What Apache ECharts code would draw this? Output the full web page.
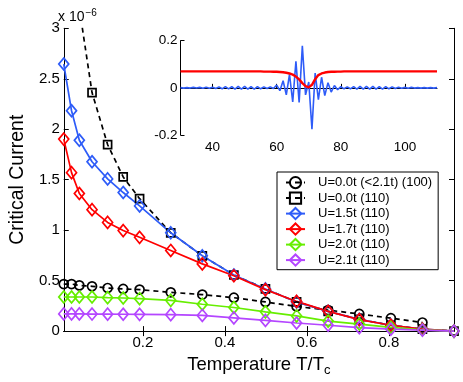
<!DOCTYPE html>
<html><head><meta charset="utf-8">
<script src="https://cdn.jsdelivr.net/npm/echarts@6/dist/echarts.min.js"></script>
<style>html,body{margin:0;padding:0;background:#fff}#c{width:463px;height:382px}</style>
</head><body><div id="c"></div>
<script>
// Main chart data (critical current in units of 1e-6)
const temps = [0.007, 0.026, 0.045, 0.076, 0.114, 0.152, 0.192, 0.268, 0.345, 0.422, 0.499, 0.575, 0.652, 0.728, 0.805, 0.882, 0.959];
const u00_100 = [0.466, 0.466, 0.453, 0.444, 0.427, 0.418, 0.411, 0.384, 0.362, 0.331, 0.289, 0.244, 0.208, 0.170, 0.128, 0.085];
const u00_110 = [4.6, 3.9, 3.2, 2.363, 1.848, 1.527, 1.312, 0.974, 0.746, 0.556, 0.418, 0.289, 0.196, 0.116, 0.058, 0.019, 0];
const u15_110 = [2.646, 2.183, 1.891, 1.678, 1.508, 1.373, 1.240, 0.974, 0.746, 0.556, 0.418, 0.289, 0.196, 0.116, 0.058, 0.019, 0];
const u17_110 = [1.902, 1.570, 1.363, 1.203, 1.077, 0.996, 0.929, 0.799, 0.666, 0.548, 0.411, 0.294, 0.196, 0.114, 0.058, 0.019, 0];
const u20_110 = [0.338, 0.338, 0.338, 0.338, 0.331, 0.328, 0.321, 0.305, 0.266, 0.234, 0.191, 0.150, 0.099, 0.070, 0.037, 0.013, 0];
const u21_110 = [0.170, 0.170, 0.170, 0.169, 0.168, 0.167, 0.166, 0.163, 0.155, 0.131, 0.106, 0.080, 0.058, 0.035, 0.019, 0.010, 0];
const xTicks = [0.2, 0.4, 0.6, 0.8];
const seriesNames = ['U=0.0t (<2.1t) (100)', 'U=0.0t (110)', 'U=1.5t (110)', 'U=1.7t (110)', 'U=2.0t (110)', 'U=2.1t (110)'];

// Inset data
const insetX = [30,31,32,33,34,35,36,37,38,39,40,41,42,43,44,45,46,47,48,49,50,51,52,53,54,55,56,57,58,59,60,61,62,63,64,65,66,67,68,69,70,71,72,73,74,75,76,77,78,79,80,81,82,83,84,85,86,87,88,89,90,91,92,93,94,95,96,97,98,99,100,101,102,103,104,105,106,107,108,109,110];
const insetBlue = [0.001,-0.001,0.001,-0.001,0.002,-0.001,0.002,-0.002,0.003,-0.002,0.003,-0.003,0.004,-0.004,0.005,-0.004,0.005,-0.005,0.006,-0.005,0.006,-0.005,0.005,-0.005,0.005,-0.004,0.004,-0.003,0.004,-0.003,0.012,-0.012,0.03,-0.03,0.057,-0.06,0.113,-0.062,0.178,-0.03,0.025,-0.175,0.063,-0.05,0.045,-0.033,0.022,-0.018,0.01,-0.008,0.005,-0.004,0.004,-0.004,0.005,-0.005,0.006,-0.005,0.006,-0.005,0.006,-0.005,0.005,-0.005,0.005,-0.004,0.004,-0.003,0.003,-0.002,0.002,-0.002,0.002,-0.001,0.001,-0.001,0.001,-0.001,0.001,-0.001,0.001];
const insetRed = [0.07,0.07,0.07,0.07,0.07,0.07,0.07,0.07,0.07,0.07,0.07,0.07,0.07,0.07,0.07,0.07,0.07,0.07,0.07,0.07,0.07,0.07,0.07,0.07,0.07,0.07,0.069,0.069,0.069,0.068,0.068,0.067,0.066,0.064,0.061,0.056,0.048,0.036,0.02,0.007,0.002,0.013,0.037,0.054,0.061,0.065,0.067,0.068,0.068,0.069,0.069,0.07,0.07,0.07,0.07,0.07,0.07,0.07,0.07,0.07,0.07,0.07,0.07,0.07,0.07,0.07,0.07,0.07,0.07,0.07,0.07,0.07,0.07,0.07,0.07,0.07,0.07,0.07,0.07,0.07,0.07];
const insetYTicks = [-0.2, 0, 0.2];
const insetXTicks = [40, 60, 80, 100];

const colors = ['#000000', '#000000', '#2E5CF8', '#FF0000', '#66EE00', '#B446FF'];
const symbols = ['circle', 'rect', 'diamond', 'diamond', 'diamond', 'diamond'];
const symSizes = [9, 8, [10, 12], [10, 12], [10, 12], [10, 12]];
const values = [u00_100, u00_110, u15_110, u17_110, u20_110, u21_110];
const FONT = '"Liberation Sans", Arial, Helvetica, sans-serif';

const mainSeries = values.map((v, i) => ({
  name: seriesNames[i],
  type: 'line',
  xAxisIndex: 0, yAxisIndex: 0,
  data: v.map((y, k) => [temps[k], y]),
  symbol: symbols[i],
  symbolSize: symSizes[i],
  showSymbol: true,
  clip: true,
  lineStyle: { color: colors[i], width: 1.7, type: i < 2 ? [5, 4] : 'solid' },
  itemStyle: { color: 'rgba(255,255,255,0)', borderColor: colors[i], borderWidth: 1.7 },
  emphasis: { disabled: true },
  animation: false
}));

const chart = echarts.init(document.getElementById('c'), null, { renderer: 'canvas' });
const axisLineStyle = { color: '#000', width: 1 };
chart.setOption({
  animation: false,
  backgroundColor: '#fff',
  textStyle: { fontFamily: FONT },
  grid: [
    { left: 57.3, top: 28.3, right: 9, bottom: 42.7, show: false },
    { left: 180.5, top: 40.7, right: 26, bottom: 247, show: true, backgroundColor: '#fff', borderWidth: 0, z: 5 }
  ],
  xAxis: [
    { type: 'value', gridIndex: 0, min: temps[0], max: temps[temps.length - 1],
      name: 'Temperature T/T{sub|c}', nameLocation: 'middle', nameGap: 20,
      nameTextStyle: { fontSize: 18.5, color: '#000', fontFamily: FONT, rich: { sub: { fontSize: 13, verticalAlign: 'bottom', padding: [12, 0, 0, 0], fontFamily: FONT } } },
      axisLine: { lineStyle: axisLineStyle },
      axisTick: { inside: true, length: 5, customValues: xTicks, lineStyle: { color: '#000' } },
      axisLabel: { customValues: xTicks, fontSize: 15, color: '#000', margin: 4, fontFamily: FONT },
      splitLine: { show: false } },
    { type: 'value', gridIndex: 0, position: 'top', min: temps[0], max: temps[temps.length - 1],
      axisLine: { lineStyle: axisLineStyle },
      axisTick: { inside: true, length: 5, customValues: xTicks, lineStyle: { color: '#000' } },
      axisLabel: { show: false }, splitLine: { show: false } },
    { type: 'value', gridIndex: 1, min: 30, max: 110, z: 6,
      axisLine: { lineStyle: axisLineStyle },
      axisTick: { inside: true, length: 4, customValues: insetXTicks, lineStyle: { color: '#000' } },
      axisLabel: { customValues: insetXTicks, fontSize: 13.5, color: '#000', margin: 5, fontFamily: FONT },
      splitLine: { show: false } }
  ],
  yAxis: [
    { type: 'value', gridIndex: 0, min: 0, max: 3, interval: 0.5,
      name: 'Critical Current', nameLocation: 'middle', nameGap: 34,
      nameTextStyle: { fontSize: 19.5, color: '#000', fontFamily: FONT },
      axisLine: { lineStyle: axisLineStyle },
      axisTick: { inside: true, length: 5, lineStyle: { color: '#000' } },
      axisLabel: { fontSize: 15, color: '#000', margin: 4, fontFamily: FONT },
      splitLine: { show: false } },
    { type: 'value', gridIndex: 0, position: 'right', min: 0, max: 3, interval: 0.5,
      axisLine: { lineStyle: axisLineStyle },
      axisTick: { inside: true, length: 5, lineStyle: { color: '#000' } },
      axisLabel: { show: false }, splitLine: { show: false } },
    { type: 'value', gridIndex: 1, min: -0.2, max: 0.2, z: 6,
      axisLine: { lineStyle: axisLineStyle },
      axisTick: { inside: true, length: 4, customValues: insetYTicks, lineStyle: { color: '#000' } },
      axisLabel: { customValues: insetYTicks, fontSize: 13.5, color: '#000', margin: 3, fontFamily: FONT },
      splitLine: { show: false } }
  ],
  legend: {
    orient: 'vertical', left: 277, top: 172,
    data: seriesNames,
    backgroundColor: '#fff', borderColor: '#000', borderWidth: 1,
    padding: [4, 6, 3, 8], itemGap: 2.3, itemWidth: 19, itemHeight: 14,
    textStyle: { fontSize: 13, color: '#000', fontFamily: FONT, padding: [0, 0, 0, 8] },
    selectedMode: false, z: 10
  },
  graphic: [
    { type: 'text', left: 58, top: 8, z: 10,
      style: { text: 'x 10{sup|−6}', fontSize: 14, fill: '#000', fontFamily: FONT,
        rich: { sup: { fontSize: 10, verticalAlign: 'top', padding: [0, 0, 8, 1], fontFamily: FONT } } } }
  ],
  series: mainSeries.concat([
    { type: 'line', xAxisIndex: 2, yAxisIndex: 2, z: 7,
      data: insetX.map((x, k) => [x, insetBlue[k]]), showSymbol: false, symbol: 'none',
      lineStyle: { color: '#2E5CF8', width: 1.6 }, emphasis: { disabled: true } },
    { type: 'line', xAxisIndex: 2, yAxisIndex: 2, z: 8,
      data: insetX.map((x, k) => [x, insetRed[k]]), showSymbol: false, symbol: 'none',
      lineStyle: { color: '#FF0000', width: 2.4 }, emphasis: { disabled: true } }
  ])
});
</script></body></html>
